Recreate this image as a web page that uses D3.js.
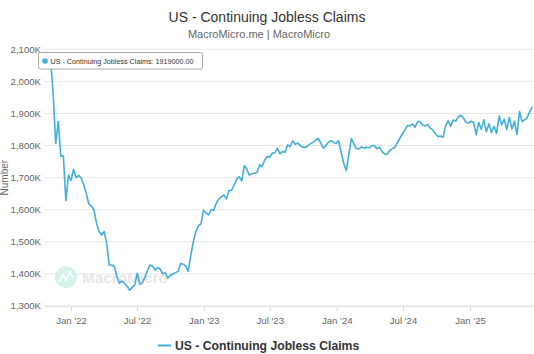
<!DOCTYPE html>
<html>
<head>
<meta charset="UTF-8">
<title>US - Continuing Jobless Claims</title>
<script src="https://d3js.org/d3.v7.min.js"></script>
<style>
  body { margin: 0; background: #fff; font-family: "Liberation Sans", Arial, sans-serif; }
  svg { display: block; }
</style>
</head>
<body>
<div id="chart"></div>
<script>
// weekly series, first week ending 2021-11-06 (values in thousands)
const startWeek = new Date(2021, 10, 6);
const claims = [
  2070, 1960, 1807, 1875, 1767, 1768, 1628, 1708, 1691, 1726,
  1700, 1707, 1698, 1677, 1651, 1618, 1612, 1600, 1558, 1532,
  1521, 1532, 1496, 1428, 1428, 1423, 1392, 1371, 1378, 1370,
  1362, 1349, 1358, 1365, 1402, 1368, 1372, 1390, 1410, 1428,
  1424, 1412, 1420, 1415, 1400, 1404, 1387, 1396, 1400, 1404,
  1408, 1432, 1430, 1425, 1408, 1458, 1500, 1532, 1550, 1556,
  1598, 1590, 1584, 1600, 1598, 1620, 1634, 1640, 1646, 1633,
  1660, 1660, 1677, 1696, 1703, 1690, 1738, 1726, 1708, 1712,
  1714, 1716, 1740, 1734, 1755, 1766, 1764, 1776, 1778, 1791,
  1774, 1781, 1779, 1802, 1797, 1815, 1804, 1808, 1799, 1795,
  1794, 1800, 1806, 1810, 1818, 1822, 1808, 1792, 1800, 1810,
  1815, 1810, 1806, 1815, 1780, 1745, 1722, 1770, 1822, 1805,
  1790, 1790, 1796, 1792, 1795, 1793, 1800, 1800, 1790, 1795,
  1782, 1774, 1772, 1784, 1790, 1794, 1808, 1822, 1836, 1848,
  1862, 1862, 1867, 1857, 1875, 1875, 1864, 1861, 1866, 1854,
  1848, 1837, 1828, 1830, 1826, 1862, 1878, 1860, 1880, 1876,
  1890, 1894, 1885, 1873, 1870, 1876, 1872, 1834, 1872, 1850,
  1880, 1843, 1868, 1840, 1860, 1838, 1892, 1864, 1882, 1850,
  1888, 1852, 1876, 1835, 1906, 1875, 1880, 1888, 1905, 1921
];
const yTicks = [1300, 1400, 1500, 1600, 1700, 1800, 1900, 2000, 2100];
const xTicks = [
  new Date(2022, 0, 1), new Date(2022, 6, 1), new Date(2023, 0, 1), new Date(2023, 6, 1),
  new Date(2024, 0, 1), new Date(2024, 6, 1), new Date(2025, 0, 1)
];
const seriesName = "US - Continuing Jobless Claims";
const tooltipValue = 1919000;

const W = 534, H = 354;
const plot = { left: 45, right: 534, top: 49.3, bottom: 306 };
const lineColor = "#41aedb";

const svg = d3.select("#chart").append("svg")
  .attr("width", W).attr("height", H);

// x: Jan '22 at 71px, Jan '25 at 470px
const x = d3.scaleTime()
  .domain([new Date(2022, 0, 1), new Date(2025, 0, 1)])
  .range([71, 470]);
const y = d3.scaleLinear()
  .domain([1300, 2100])
  .range([plot.bottom, plot.top]);

// titles
svg.append("text")
  .attr("x", W / 2).attr("y", 21.5)
  .attr("text-anchor", "middle")
  .attr("font-size", 14).attr("fill", "#333")
  .text(seriesName);
svg.append("text")
  .attr("x", W / 2 - 8).attr("y", 37.5)
  .attr("text-anchor", "middle")
  .attr("font-size", 11).attr("fill", "#666")
  .text("MacroMicro.me | MacroMicro");

// gridlines
svg.append("g")
  .selectAll("line")
  .data(yTicks)
  .join("line")
  .attr("x1", plot.left).attr("x2", plot.right)
  .attr("y1", d => y(d)).attr("y2", d => y(d))
  .attr("stroke", "#e6e6e6").attr("stroke-width", 1);

// y labels
svg.append("g")
  .selectAll("text")
  .data(yTicks)
  .join("text")
  .attr("x", 41).attr("y", d => y(d))
  .attr("dy", "0.35em")
  .attr("text-anchor", "end")
  .attr("font-size", 9.6).attr("fill", "#666")
  .text(d => d3.format(",")(d) + "K");

svg.append("text")
  .attr("transform", `translate(8, ${(plot.top + plot.bottom) / 2}) rotate(-90)`)
  .attr("text-anchor", "middle")
  .attr("font-size", 10).attr("fill", "#666")
  .text("Number");

// x axis
const xAxis = svg.append("g")
  .attr("transform", `translate(0, ${plot.bottom})`)
  .call(d3.axisBottom(x)
    .tickValues(xTicks)
    .tickSize(5)
    .tickPadding(6)
    .tickFormat(d => d3.timeFormat("%b '%y")(d)));
xAxis.select(".domain").remove();
xAxis.selectAll(".tick line").attr("stroke", "#ccd6eb");
xAxis.selectAll(".tick text")
  .attr("font-family", "Liberation Sans, Arial, sans-serif")
  .attr("font-size", 9.6).attr("fill", "#666");
svg.append("line")
  .attr("x1", plot.left).attr("x2", plot.right)
  .attr("y1", plot.bottom + 0.5).attr("y2", plot.bottom + 0.5)
  .attr("stroke", "#e6e6e6");

// watermark
const wm = svg.append("g");
wm.append("circle")
  .attr("cx", 66).attr("cy", 277).attr("r", 11)
  .attr("fill", "#d6f2ea");
wm.append("polyline")
  .attr("points", "59,282 63,275 66,280 70,272 73,278")
  .attr("fill", "none").attr("stroke", "#fff").attr("stroke-width", 1.6);
wm.append("text")
  .attr("x", 82).attr("y", 283)
  .attr("font-size", 15.3).attr("font-weight", "bold")
  .attr("fill", "#e6e6e6")
  .text("MacroMicro");

// series line
const data = claims.map((v, i) => ({ date: d3.timeWeek.offset(startWeek, i), value: v }));
svg.append("defs").append("clipPath").attr("id", "clip")
  .append("rect")
  .attr("x", plot.left).attr("y", 40)
  .attr("width", plot.right - plot.left).attr("height", plot.bottom - 40);
svg.append("path")
  .datum(data)
  .attr("clip-path", "url(#clip)")
  .attr("fill", "none")
  .attr("stroke", lineColor)
  .attr("stroke-width", 1.6)
  .attr("stroke-linejoin", "round")
  .attr("d", d3.line().x(d => x(d.date)).y(d => y(d.value)));

// tooltip box
const tip = svg.append("g");
tip.append("rect")
  .attr("x", 38.5).attr("y", 52.5).attr("width", 164).attr("height", 16.5)
  .attr("rx", 2).attr("fill", "#fff").attr("fill-opacity", 0.95)
  .attr("stroke", "#aaa").attr("stroke-width", 1);
tip.append("circle")
  .attr("cx", 45).attr("cy", 61).attr("r", 2.8)
  .attr("fill", lineColor);
tip.append("text")
  .attr("x", 50.5).attr("y", 63.6)
  .attr("font-size", 7.2).attr("fill", "#333")
  .text(`${seriesName}: ${tooltipValue.toFixed(2)}`);

// legend
svg.append("line")
  .attr("x1", 158).attr("x2", 171)
  .attr("y1", 345.5).attr("y2", 345.5)
  .attr("stroke", lineColor).attr("stroke-width", 2);
svg.append("text")
  .attr("x", 175).attr("y", 350)
  .attr("font-size", 12.2).attr("font-weight", "bold").attr("fill", "#333")
  .text(seriesName);
</script>
</body>
</html>
